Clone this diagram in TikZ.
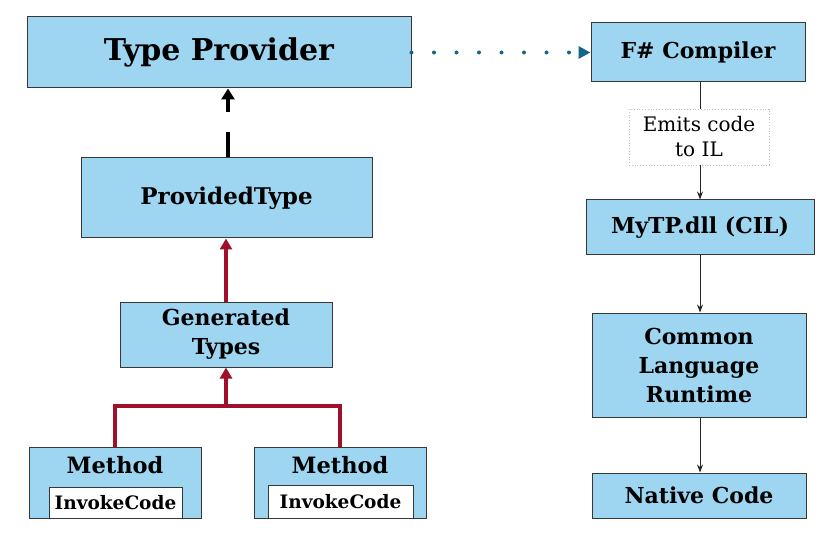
\documentclass[tikz,border=0pt]{standalone}
\usepackage{fontspec}
\setmainfont{DejaVu Serif}
\usetikzlibrary{arrows.meta}
\definecolor{boxblue}{RGB}{158,213,241}
\definecolor{edgegray}{RGB}{55,55,55}
\definecolor{redline}{RGB}{160,16,42}
\definecolor{tealline}{RGB}{22,100,135}
\begin{document}
\begin{tikzpicture}[x=1pt,y=-1pt,
  box/.style={draw=edgegray, fill=boxblue, line width=1pt, inner sep=0pt,
    align=center, font=\bfseries\fontsize{22}{29}\selectfont},
  codebox/.style={draw=edgegray, fill=white, line width=1pt, inner sep=0pt,
    font=\bfseries\fontsize{18.5}{20}\selectfont},
  methodlabel/.style={font=\bfseries\fontsize{22.5}{24}\selectfont, anchor=base, inner sep=0pt},
  thinarrow/.style={draw=black!85, line width=0.9pt, -{Stealth[length=8pt,width=6pt]}},
  redarrow/.style={draw=redline, line width=4pt, line join=miter},
]
\useasboundingbox (0,0) rectangle (826,534);

% left column
\node[box, minimum width=384pt, minimum height=71pt,
  font=\bfseries\fontsize{30}{34}\selectfont] (tp) at (219,52.5) {Type Provider};
\node[box, minimum width=291pt, minimum height=80pt,
  font=\bfseries\fontsize{23}{28}\selectfont] (pt) at (226.5,198) {ProvidedType};
\node[box, minimum width=212pt, minimum height=65pt] (gt) at (226,334.5) {Generated\\Types};

\node[box, minimum width=172pt, minimum height=71pt] (m1) at (115,482.5) {};
\node[methodlabel] (m1t) at (115,473) {Method};
\node[codebox, minimum width=133pt, minimum height=31pt] (c1) at (115.5,502.5) {InvokeCode};

\node[box, minimum width=172pt, minimum height=71pt] (m2) at (340,482.5) {};
\node[methodlabel] (m2t) at (340,473) {Method};
\node[codebox, minimum width=145pt, minimum height=33pt] (c2) at (340.5,501.5) {InvokeCode};

% right column
\node[box, minimum width=214pt, minimum height=59pt] (fsc) at (698,52.5) {F\# Compiler};
\node[draw=black!25, dotted, line width=0.8pt, minimum width=140pt, minimum height=56pt,
  inner sep=0pt, align=center, font=\fontsize{20}{25}\selectfont] (emit) at (699,137) {Emits code\\to IL};
\node[box, minimum width=228pt, minimum height=55pt] (dll) at (700,227.5) {MyTP.dll (CIL)};
\node[box, minimum width=214pt, minimum height=104pt] (clr) at (699,365) {Common\\Language\\Runtime};
\node[box, minimum width=214pt, minimum height=45pt] (nat) at (699,495.5) {Native Code};
\coordinate (spine) at (700,0);

% connectors
\draw[tealline, line width=4pt, line cap=round, dash pattern=on 0pt off 22.5pt,
  -{Triangle[length=12pt,width=12pt]}] (tp.east) -- (fsc.west);
\draw[black, line width=4pt, dash pattern=on 25pt off 20pt,
  -{Triangle[length=11pt,width=13pt]}] (pt.north -| 228,0) -- (tp.south -| 228,0);
\draw[redarrow, -{Triangle[length=11pt,width=12pt]}] (gt.north) -- (pt.south -| gt.north);

\coordinate (join) at (226,406);
\draw[redarrow] (m1.north) |- (join) -| (m2.north);
\draw[redarrow, -{Triangle[length=11pt,width=12pt]}] (join) -- (gt.south);

\draw[black!85, line width=0.9pt] (fsc.south -| spine) -- (emit.north -| spine);
\draw[thinarrow] (emit.south -| spine) -- (dll.north -| spine);
\draw[thinarrow] (dll.south -| spine) -- (clr.north -| spine);
\draw[thinarrow] (clr.south -| spine) -- (nat.north -| spine);
\end{tikzpicture}
\end{document}
